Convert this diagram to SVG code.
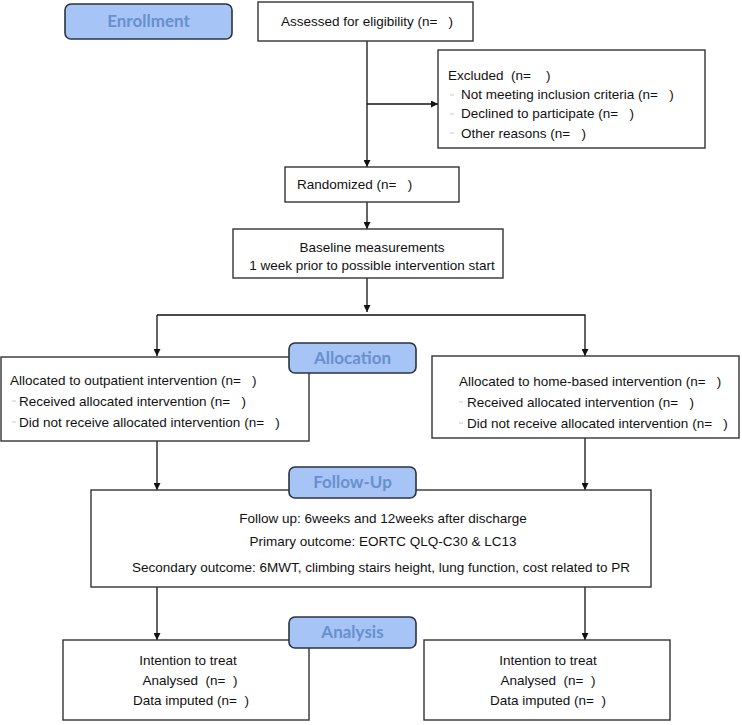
<svg xmlns="http://www.w3.org/2000/svg" width="742" height="725" viewBox="0 0 742 725">
<defs>
<marker id="arr" viewBox="0 0 10 10" refX="10" refY="5" markerWidth="7" markerHeight="7" markerUnits="userSpaceOnUse" orient="auto">
<path d="M0,0 L10,5 L0,10 z" fill="#111"/>
</marker>
</defs>
<style>
.box{fill:#fff;stroke:#333;stroke-width:1.4}
.lab{fill:#a6c4f6;stroke:#2a3340;stroke-width:1.6}
.lt{font-family:Lato,"Open Sans",sans-serif;font-weight:bold;font-size:17px;fill:#6a8fcc;text-anchor:middle}
.t{font-family:"Liberation Sans",Arial,sans-serif;font-size:13.5px;fill:#111;white-space:pre}
.c{text-anchor:middle}
.ln{fill:none;stroke:#111;stroke-width:1.3}
.d{stroke:#c8c8c8;stroke-width:1}
</style>
<rect width="742" height="725" fill="#fff"/>
<g id="connectors">
<line class="ln" x1="367" y1="41" x2="367" y2="167" marker-end="url(#arr)"/>
<line class="ln" x1="367" y1="104" x2="438" y2="104" marker-end="url(#arr)"/>
<line class="ln" x1="367" y1="202" x2="367" y2="229" marker-end="url(#arr)"/>
<line class="ln" x1="367" y1="278" x2="367" y2="312" marker-end="url(#arr)"/>
<polyline class="ln" points="157,315 585,315 585,356" marker-end="url(#arr)"/>
<line class="ln" x1="157" y1="315" x2="157" y2="356" marker-end="url(#arr)"/>
<line class="ln" x1="157" y1="441" x2="157" y2="490" marker-end="url(#arr)"/>
<line class="ln" x1="585" y1="438" x2="585" y2="490" marker-end="url(#arr)"/>
<line class="ln" x1="157" y1="587" x2="157" y2="640" marker-end="url(#arr)"/>
<line class="ln" x1="585" y1="587" x2="585" y2="640" marker-end="url(#arr)"/>
</g>
<g id="enrollment">
<rect class="lab" x="65" y="4" width="167" height="35" rx="6"/>
<text class="lt" x="148.5" y="27">Enrollment</text>
</g>
<g id="assessed">
<rect class="box" x="258" y="2" width="215" height="39"/>
<text class="t c" x="367" y="26" xml:space="preserve">Assessed for eligibility (n=   )</text>
</g>
<g id="excluded">
<rect class="box" x="438" y="50" width="267" height="98"/>
<text class="t" x="448" y="80" xml:space="preserve">Excluded  (n=    )</text>
<line class="d" x1="450" y1="95" x2="454" y2="95"/>
<text class="t" x="461" y="99" xml:space="preserve">Not meeting inclusion criteria (n=   )</text>
<line class="d" x1="450" y1="114" x2="454" y2="114"/>
<text class="t" x="461" y="118" xml:space="preserve">Declined to participate (n=   )</text>
<line class="d" x1="450" y1="133" x2="454" y2="133"/>
<text class="t" x="461" y="138" xml:space="preserve">Other reasons (n=   )</text>
</g>
<g id="randomized">
<rect class="box" x="285" y="167" width="174" height="35"/>
<text class="t" x="297" y="189" xml:space="preserve">Randomized (n=   )</text>
</g>
<g id="baseline">
<rect class="box" x="233" y="229" width="270" height="49"/>
<text class="t c" x="372" y="252">Baseline measurements</text>
<text class="t c" x="372" y="270">1 week prior to possible intervention start</text>
</g>
<g id="left-allocation">
<rect class="box" x="1" y="357" width="308" height="84"/>
<text class="t" x="10" y="385" xml:space="preserve">Allocated to outpatient intervention (n=   )</text>
<line class="d" x1="12" y1="401" x2="16" y2="401"/>
<text class="t" x="19" y="406" xml:space="preserve">Received allocated intervention (n=   )</text>
<line class="d" x1="12" y1="422" x2="16" y2="422"/>
<text class="t" x="19" y="427" xml:space="preserve">Did not receive allocated intervention (n=   )</text>
</g>
<g id="right-allocation">
<rect class="box" x="432" y="356" width="307" height="82"/>
<text class="t" x="459" y="386" xml:space="preserve">Allocated to home-based intervention (n=   )</text>
<line class="d" x1="459" y1="402" x2="463" y2="402"/>
<text class="t" x="467" y="407" xml:space="preserve">Received allocated intervention (n=   )</text>
<line class="d" x1="459" y1="423" x2="463" y2="423"/>
<text class="t" x="467" y="428" xml:space="preserve">Did not receive allocated intervention (n=   )</text>
</g>
<g id="allocation">
<rect class="lab" x="289" y="343" width="127" height="30" rx="6"/>
<text class="lt" x="352.5" y="364">Allocation</text>
</g>
<g id="followup-box">
<rect class="box" x="91" y="490" width="560" height="97"/>
<text class="t c" x="383" y="523">Follow up: 6weeks and 12weeks after discharge</text>
<text class="t c" x="383" y="546">Primary outcome: EORTC QLQ-C30 &amp; LC13</text>
<text class="t c" x="381" y="572">Secondary outcome: 6MWT, climbing stairs height, lung function, cost related to PR</text>
</g>
<g id="followup">
<rect class="lab" x="289" y="467" width="127" height="31" rx="6"/>
<text class="lt" x="352.5" y="488">Follow-Up</text>
</g>
<g id="left-analysis">
<rect class="box" x="63" y="640" width="246" height="80"/>
<text class="t c" x="188" y="665">Intention to treat</text>
<text class="t c" x="190" y="685" xml:space="preserve">Analysed  (n=  )</text>
<text class="t c" x="191" y="705" xml:space="preserve">Data imputed (n=  )</text>
</g>
<g id="right-analysis">
<rect class="box" x="424" y="640" width="246" height="80"/>
<text class="t c" x="548" y="665">Intention to treat</text>
<text class="t c" x="548" y="685" xml:space="preserve">Analysed  (n=  )</text>
<text class="t c" x="548" y="705" xml:space="preserve">Data imputed (n=  )</text>
</g>
<g id="analysis">
<rect class="lab" x="289" y="617" width="127" height="31" rx="6"/>
<text class="lt" x="352.5" y="638">Analysis</text>
</g>
</svg>
